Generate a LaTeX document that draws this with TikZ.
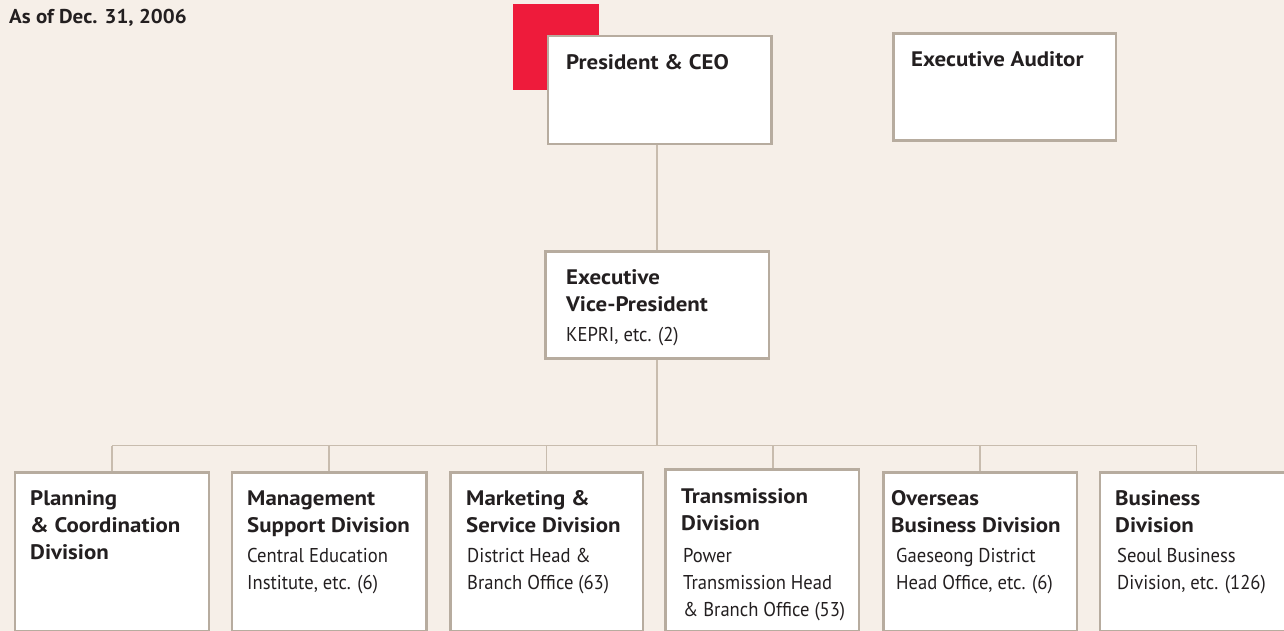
\documentclass[tikz,border=0pt]{standalone}
\usepackage{fontspec}
\setmainfont{PT Sans}
\newfontfamily\headfont[FakeStretch=1.09]{PT Sans}
\newfontfamily\datefont[FakeStretch=1.05]{PT Sans}
\newfontfamily\subfont[FakeStretch=0.93]{PT Sans}
\newcommand\lnstrut{\rule{0pt}{20pt}}
\definecolor{paper}{HTML}{F6EFE8}
\definecolor{frame}{HTML}{B7AC9F}
\definecolor{wire}{HTML}{C8BCAE}
\definecolor{accent}{HTML}{EE1B3B}
\definecolor{ink}{HTML}{231F20}
\pgfdeclarelayer{paperlayer}
\pgfdeclarelayer{wirelayer}
\pgfsetlayers{paperlayer,wirelayer,main}
\tikzset{
  unit/.style={draw=frame, line width=2.5pt, fill=white, inner sep=0pt, anchor=north west},
  title/.style={anchor=north west, inner sep=0pt, align=left, text=ink,
    font=\headfont\fontsize{21}{27}\selectfont\bfseries},
  detail/.style={anchor=north west, inner sep=0pt, align=left, text=ink,
    font=\subfont\fontsize{20}{27}\selectfont},
  conn/.style={draw=wire, line width=1.4pt},
}
\begin{document}
\begin{tikzpicture}[x=1pt,y=-1pt]
\begin{pgfonlayer}{paperlayer}
  \fill[paper] (0,0) rectangle (1284,631);
\end{pgfonlayer}
\useasboundingbox (0,0) rectangle (1284,631);
\begin{scope}
\clip (0,0) rectangle (1284,631);

% date line
\node[anchor=north west, inner sep=0pt, text=ink, font=\datefont\fontsize{20}{22}\selectfont\bfseries] (date) at (9,3.3) {\lnstrut As of Dec. 31, 2006};

% red accent behind the top box
\fill[accent] (513,4) rectangle (599,89.7);

% top level
\node[unit, minimum width=223.5pt, minimum height=107.7pt] (ceo) at (546.9,35) {};
\node[unit, minimum width=222.4pt, minimum height=107.2pt] (aud) at (892.3,32.3) {};
\node[unit, minimum width=223.5pt, minimum height=106.7pt] (evp) at (544,250.3) {};

\node[title] (ceoT) at (566,49) {\lnstrut President \& CEO};
\node[title] (audT) at (911,46) {\lnstrut Executive Auditor};
\node[title] (evpT) at (566,264) {\lnstrut Executive\\Vice-President};
\node[detail] (evpS) at (566,321) {\lnstrut KEPRI, etc. (2)};

% divisions
\node[unit, minimum width=193.9pt, minimum height=159pt] (d1) at (13.9,471.2) {};
\node[unit, minimum width=194.7pt, minimum height=159pt] (d2) at (230.5,471.2) {};
\node[unit, minimum width=192.6pt, minimum height=159pt] (d3) at (449.2,471.2) {};
\node[unit, minimum width=193.6pt, minimum height=162pt] (d4) at (664.2,468.2) {};
\node[unit, minimum width=193.3pt, minimum height=159pt] (d5) at (882.2,471.2) {};
\node[unit, minimum width=193.6pt, minimum height=159pt] (d6) at (1098.7,471.2) {};

\node[title] (d1T) at (30,485) {\lnstrut Planning\\\& Coordination\\Division};
\node[title] (d2T) at (247,485) {\lnstrut Management\\Support Division};
\node[detail] (d2S) at (247,542) {\lnstrut Central Education\\Institute, etc. (6)};
\node[title] (d3T) at (466,485) {\lnstrut Marketing \&\\Service Division};
\node[detail] (d3S) at (467,542) {\lnstrut District Head \&\\Branch Office (63)};
\node[title] (d4T) at (681,483) {\lnstrut Transmission\\Division};
\node[detail] (d4S) at (683,542) {\lnstrut Power\\Transmission Head\\\& Branch Office (53)};
\node[title] (d5T) at (891,485) {\lnstrut Overseas\\Business Division};
\node[detail] (d5S) at (896,542) {\lnstrut Gaeseong District\\Head Office, etc. (6)};
\node[title] (d6T) at (1115,485) {\lnstrut Business\\Division};
\node[detail] (d6S) at (1117,542) {\lnstrut Seoul Business\\Division, etc. (126)};

% connectors
\coordinate (bus) at (655.7,445.7);
\coordinate (tap4) at (773,445.7);
\begin{pgfonlayer}{wirelayer}
  \draw[conn] (evp.north) -- (evp.north |- ceo.south);
  \draw[conn] (evp.south) -- (evp.south |- bus);
  \draw[conn] (d1.north |- bus) -- (d6.north |- bus);
  \foreach \d in {d1,d2,d3,d5,d6}
    \draw[conn] (\d.north) -- (\d.north |- bus);
  \draw[conn] (tap4 |- d4.north) -- (tap4);
\end{pgfonlayer}
\end{scope}
\end{tikzpicture}
\end{document}
